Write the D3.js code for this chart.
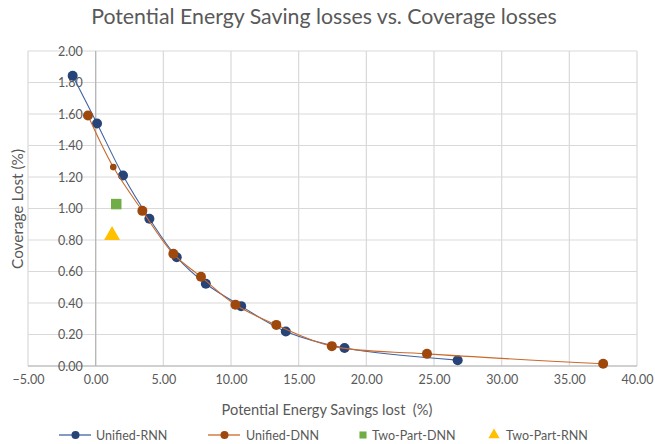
<!DOCTYPE html>
<html>
<head>
<meta charset="utf-8">
<script src="https://cdn.jsdelivr.net/npm/d3@7/dist/d3.min.js"></script>
<style>
  html, body { margin: 0; padding: 0; background: #fff; }
  svg { display: block; font-family: Lato, "Open Sans", sans-serif; }
</style>
</head>
<body>
<svg id="chart" width="655" height="444"></svg>
<script>
// ---- data ----
const rnnX = [-1.70, 0.10, 2.02, 3.97, 5.99, 8.14, 10.75, 14.05, 18.39, 26.75];
const rnnY = [1.843, 1.540, 1.210, 0.935, 0.691, 0.522, 0.380, 0.219, 0.114, 0.037];
const dnnX = [-0.57, 1.30, 3.45, 5.74, 7.78, 10.33, 13.35, 17.45, 24.48, 37.50];
const dnnY = [1.590, 1.263, 0.985, 0.712, 0.567, 0.389, 0.261, 0.126, 0.077, 0.014];
const twoPartDnnX = [1.52];
const twoPartDnnY = [1.028];
const twoPartRnnX = [1.21];
const twoPartRnnY = [0.830];
const xTicks = [-5, 0, 5, 10, 15, 20, 25, 30, 35, 40];
const yTicks = [0, 0.2, 0.4, 0.6, 0.8, 1.0, 1.2, 1.4, 1.6, 1.8, 2.0];
const seriesNames = ["Unified-RNN", "Unified-DNN", "Two-Part-DNN", "Two-Part-RNN"];

const svg = d3.select("#chart");
const textColor = "#595959";

const x = d3.scaleLinear().domain([-5, 40]).range([28, 637]);
const y = d3.scaleLinear().domain([0, 2]).range([366, 51]);

// gridlines
const grid = svg.append("g");
grid.selectAll("line.v").data(xTicks).enter().append("line")
  .attr("x1", d => x(d)).attr("x2", d => x(d))
  .attr("y1", y(2)).attr("y2", y(0))
  .attr("stroke", "#d9d9d9").attr("stroke-width", 1.2);
grid.selectAll("line.h").data(yTicks).enter().append("line")
  .attr("x1", x(-5)).attr("x2", x(40))
  .attr("y1", d => y(d)).attr("y2", d => y(d))
  .attr("stroke", "#d9d9d9").attr("stroke-width", 1.2);

// axis lines crossing at 0
svg.append("line").attr("x1", x(0)).attr("x2", x(0)).attr("y1", y(2)).attr("y2", y(0))
  .attr("stroke", "#b4b4b4").attr("stroke-width", 1.2);
svg.append("line").attr("x1", x(-5)).attr("x2", x(40)).attr("y1", y(0)).attr("y2", y(0))
  .attr("stroke", "#b4b4b4").attr("stroke-width", 1.2);

// axes (labels only) using d3 axes
const xAxis = d3.axisBottom(x).tickValues(xTicks).tickFormat(d3.format(".2f")).tickSize(0).tickPadding(9);
const gx = svg.append("g").attr("transform", `translate(0,${y(0)})`).call(xAxis);
gx.select(".domain").remove();
gx.selectAll("text").attr("fill", textColor).style("font-size", "12.5px").style("font-family", "Lato, sans-serif");

const yAxis = d3.axisLeft(y).tickValues(yTicks).tickFormat(d3.format(".2f")).tickSize(0).tickPadding(13);
const gy = svg.append("g").attr("transform", `translate(${x(0)},0)`).call(yAxis);
gy.select(".domain").remove();
gy.selectAll("text").attr("fill", textColor).style("font-size", "12.5px").style("font-family", "Lato, sans-serif");

// series
const rnn = rnnX.map((v, i) => [v, rnnY[i]]);
const dnn = dnnX.map((v, i) => [v, dnnY[i]]);
const line = d3.line().x(d => x(d[0])).y(d => y(d[1])).curve(d3.curveCatmullRom.alpha(0.5));

const rnnLine = "#4163a3", rnnMark = "#264478";
const dnnLine = "#c9692c", dnnMark = "#9e480e";

svg.append("path").attr("d", line(rnn)).attr("fill", "none").attr("stroke", rnnLine).attr("stroke-width", 1.1);
svg.selectAll("circle.rnn").data(rnn).enter().append("circle")
  .attr("cx", d => x(d[0])).attr("cy", d => y(d[1])).attr("r", 5).attr("fill", rnnMark);

svg.append("path").attr("d", line(dnn)).attr("fill", "none").attr("stroke", dnnLine).attr("stroke-width", 1.1);
svg.selectAll("circle.dnn").data(dnn).enter().append("circle")
  .attr("cx", d => x(d[0])).attr("cy", d => y(d[1])).attr("r", (d, i) => i === 1 ? 3.3 : 5).attr("fill", dnnMark);

const tpd = twoPartDnnX.map((v, i) => [v, twoPartDnnY[i]]);
const tpr = twoPartRnnX.map((v, i) => [v, twoPartRnnY[i]]);
const sq = d3.symbol().type(d3.symbolSquare).size(110);
const tri = d3.symbol().type(d3.symbolTriangle).size(110);
svg.selectAll("path.tpd").data(tpd).enter().append("path")
  .attr("d", sq).attr("transform", d => `translate(${x(d[0])},${y(d[1])})`).attr("fill", "#70ad47");
svg.selectAll("path.tpr").data(tpr).enter().append("path")
  .attr("d", tri).attr("transform", d => `translate(${x(d[0])},${y(d[1])})`).attr("fill", "#ffc000");

// titles with width fitting
function fitText(sel, targetWidth, startSize) {
  sel.style("font-size", startSize + "px");
  const w = sel.node().getComputedTextLength();
  if (w > 0) sel.style("font-size", (startSize * targetWidth / w) + "px");
}
const title = svg.append("text").attr("x", 324).attr("y", 24).attr("text-anchor", "middle")
  .attr("fill", textColor).text("Potential Energy Saving losses vs. Coverage losses");
fitText(title, 466, 19);

const xTitle = svg.append("text").attr("x", 327).attr("y", 415).attr("text-anchor", "middle")
  .attr("fill", textColor).text("Potential Energy Savings lost  (%)").attr("xml:space", "preserve").style("white-space", "pre");
fitText(xTitle, 211, 13.5);

const yTitle = svg.append("text").attr("transform", "translate(23,209) rotate(-90)").attr("text-anchor", "middle")
  .attr("fill", textColor).text("Coverage Lost (%)");
fitText(yTitle, 120, 13.5);

// legend
const leg = svg.append("g");
const ly = 435;
const legendItems = [
  { name: seriesNames[0], type: "line", line: rnnLine, mark: rnnMark, x0: 59, tx: 96 },
  { name: seriesNames[1], type: "line", line: dnnLine, mark: dnnMark, x0: 208, tx: 246 },
  { name: seriesNames[2], type: "square", mark: "#70ad47", x0: 363, tx: 372 },
  { name: seriesNames[3], type: "triangle", mark: "#ffc000", x0: 494, tx: 506 }
];
legendItems.forEach(it => {
  if (it.type === "line") {
    leg.append("line").attr("x1", it.x0).attr("x2", it.x0 + 32).attr("y1", ly).attr("y2", ly)
      .attr("stroke", it.line).attr("stroke-width", 1.3);
    leg.append("circle").attr("cx", it.x0 + 16.5).attr("cy", ly).attr("r", 4).attr("fill", it.mark);
  } else if (it.type === "square") {
    leg.append("path").attr("d", d3.symbol().type(d3.symbolSquare).size(50))
      .attr("transform", `translate(${it.x0},${ly})`).attr("fill", it.mark);
  } else {
    leg.append("path").attr("d", d3.symbol().type(d3.symbolTriangle).size(55))
      .attr("transform", `translate(${it.x0},${ly})`).attr("fill", it.mark);
  }
  const t = leg.append("text").attr("x", it.tx).attr("y", ly + 4.5).attr("fill", textColor)
    .style("font-size", "12.5px").text(it.name);
});
</script>
</body>
</html>
